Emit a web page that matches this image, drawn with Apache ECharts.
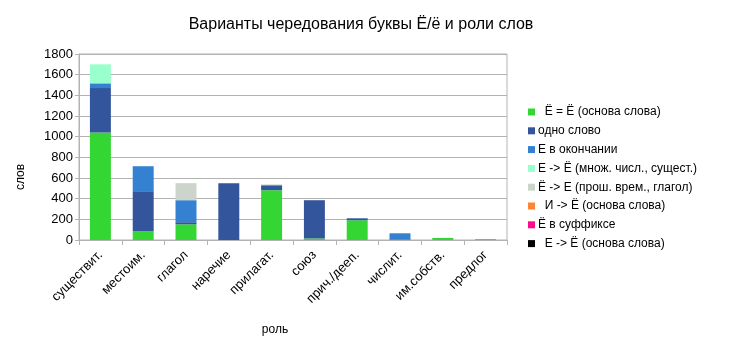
<!DOCTYPE html>
<html>
<head>
<meta charset="utf-8">
<script src="https://cdn.jsdelivr.net/npm/echarts@6/dist/echarts.min.js"></script>
<style>
  html, body { margin: 0; padding: 0; background: #fff; }
  #chart { width: 734px; height: 349px; }
</style>
</head>
<body>
<div id="chart"></div>
<script>
// Word roles (x categories)
const categories = ['существит.', 'местоим.', 'глагол', 'наречие', 'прилагат.', 'союз', 'прич./дееп.', 'числит.', 'им.собств.', 'предлог'];

// Stacked counts per alternation type
const sameStem     = [1040, 84, 152, 0, 482, 15, 191, 0, 20, 8];   // Ё = Ё (основа слова)
const singleWord   = [430, 388, 20, 550, 48, 370, 19, 5, 0, 0];    // одно слово
const inEnding     = [46, 242, 213, 0, 0, 0, 0, 60, 0, 0];          // Е в окончании
const pluralNoun   = [184, 0, 0, 0, 0, 0, 0, 0, 0, 0];              // Е -> Ё (множ. числ., сущест.)
const pastVerb     = [0, 0, 165, 0, 8, 0, 0, 0, 0, 0];              // Ё -> Е (прош. врем., глагол)
const iToYoStem    = [0, 0, 0, 0, 0, 0, 0, 0, 0, 0];                // И -> Ё (основа слова)
const inSuffix     = [0, 0, 0, 0, 0, 0, 0, 0, 0, 0];                // Ё в суффиксе
const eToYoStem    = [0, 0, 0, 0, 0, 0, 0, 0, 0, 0];                // Е -> Ё (основа слова)

const yTicks = { min: 0, max: 1800, interval: 200 };

const seriesDefs = [
  { name: '  Ё = Ё (основа слова)', data: sameStem, color: '#33d633' },
  { name: 'одно слово', data: singleWord, color: '#33559b' },
  { name: 'Е в окончании', data: inEnding, color: '#3381d0' },
  { name: 'Е -> Ё (множ. числ., сущест.)', data: pluralNoun, color: '#99ffcc' },
  { name: 'Ё -> Е (прош. врем., глагол)', data: pastVerb, color: '#cdd4cc' },
  { name: '  И -> Ё (основа слова)', data: iToYoStem, color: '#ff8533' },
  { name: 'Ё в суффиксе', data: inSuffix, color: '#ff0a8a' },
  { name: '  Е -> Ё (основа слова)', data: eToYoStem, color: '#000000' }
];

const chart = echarts.init(document.getElementById('chart'), null, { renderer: 'canvas' });
const font = 'Liberation Sans';

chart.setOption({
  animation: false,
  backgroundColor: '#fff',
  title: {
    text: 'Варианты чередования буквы Ё/ё и роли слов',
    left: 356, top: 12, textAlign: 'center',
    textStyle: { fontFamily: font, fontSize: 16, fontWeight: 'normal', color: '#000' }
  },
  legend: {
    orient: 'vertical',
    left: 523, top: 101,
    itemWidth: 7, itemHeight: 7, itemGap: 6.8,
    icon: 'rect',
    textStyle: { fontFamily: font, fontSize: 12, color: '#000', padding: [0, 0, 0, -2] },
    data: seriesDefs.map(s => s.name)
  },
  grid: { left: 79, right: 227, top: 54, bottom: 109, show: true, borderColor: '#b3b3b3', borderWidth: 1 },
  xAxis: {
    type: 'category',
    data: categories,
    name: 'роль',
    nameLocation: 'middle',
    nameGap: 84,
    nameTextStyle: { fontFamily: font, fontSize: 12, color: '#000', padding: [0, 36, 0, 0] },
    axisLine: { lineStyle: { color: '#b3b3b3' } },
    axisTick: { show: true, length: 5, lineStyle: { color: '#b3b3b3' } },
    axisLabel: { rotate: 45, fontFamily: font, fontSize: 13, color: '#000', margin: 13 }
  },
  yAxis: {
    type: 'value',
    min: yTicks.min, max: yTicks.max, interval: yTicks.interval,
    name: 'слов',
    nameLocation: 'middle',
    nameGap: 52,
    nameTextStyle: { fontFamily: font, fontSize: 12, color: '#000', padding: [0, 60, 0, 0] },
    axisLine: { show: true, lineStyle: { color: '#b3b3b3' } },
    axisTick: { show: true, length: 4, lineStyle: { color: '#b3b3b3' } },
    axisLabel: { fontFamily: font, fontSize: 13, color: '#000', margin: 6, formatter: v => String(v) },
    splitLine: { lineStyle: { color: '#b3b3b3' } }
  },
  series: seriesDefs.map(s => ({
    name: s.name,
    type: 'bar',
    stack: 'total',
    data: s.data,
    barWidth: '49%',
    itemStyle: { color: s.color }
  }))
});
</script>
</body>
</html>
